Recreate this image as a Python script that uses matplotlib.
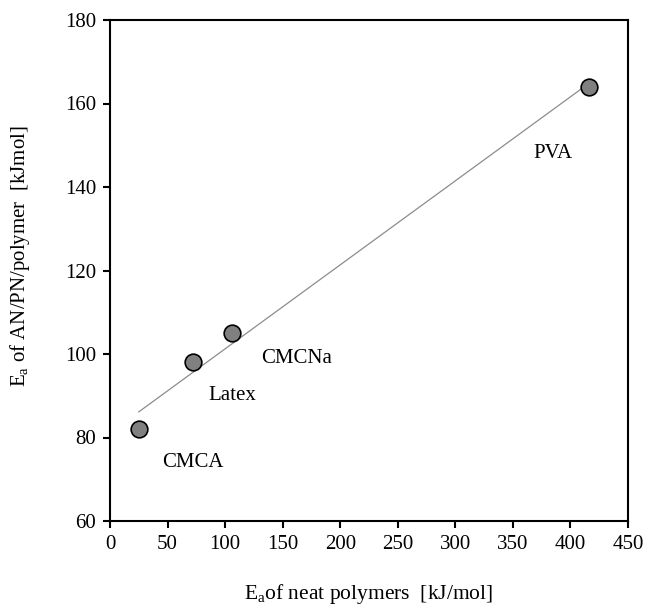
import matplotlib
matplotlib.use("Agg")
import matplotlib.pyplot as plt
import numpy as np

plt.rcParams['font.family'] = ['Liberation Serif', 'DejaVu Serif']
plt.rcParams['mathtext.fontset'] = 'custom'
plt.rcParams['mathtext.rm'] = 'Liberation Serif'
plt.rcParams['font.size'] = 15

# data
polymers = ["CMCA", "Latex", "CMCNa", "PVA"]
ea_neat = [25, 72, 106, 416]
ea_composite = [82, 98, 105, 164]
label_x = [72, 106, 162, 385]
label_y = [74, 90, 99, 148]

fig = plt.figure(figsize=(6.47, 6.07), dpi=100)
ax = fig.add_axes([110 / 647, 86 / 607, 518 / 647, 501 / 607])

# linear trendline
k, b = np.polyfit(ea_neat, ea_composite, 1)
xs = np.array([min(ea_neat), max(ea_neat)])
ax.plot(xs, k * xs + b, color="#8c8c8c", lw=0.9, zorder=2)

ax.plot(ea_neat, ea_composite, "o", ms=12, mfc="#808080", mec="black", mew=1.2, zorder=3)

for name, tx, ty in zip(polymers, label_x, label_y):
    ax.text(tx, ty, name, ha="center", va="center", fontsize=15)

ax.set_xlim(0, 450)
ax.set_ylim(60, 180)
ax.set_xticks(np.arange(0, 451, 50))
ax.set_yticks(np.arange(60, 181, 20))
ax.tick_params(direction="out", length=5, width=1.5, labelsize=15, pad=5)
for s in ax.spines.values():
    s.set_linewidth(1.5)

ax.set_xlabel(r"E$_\mathregular{a}$of neat polymers  [kJ/mol]", fontsize=15.5, labelpad=20)
ax.set_ylabel(r"E$_\mathregular{a}$ of AN/PN/polymer  [kJmol]", fontsize=15)
ax.yaxis.set_label_coords(-0.151, 0.529)

fig.savefig("out.png", dpi=100)
